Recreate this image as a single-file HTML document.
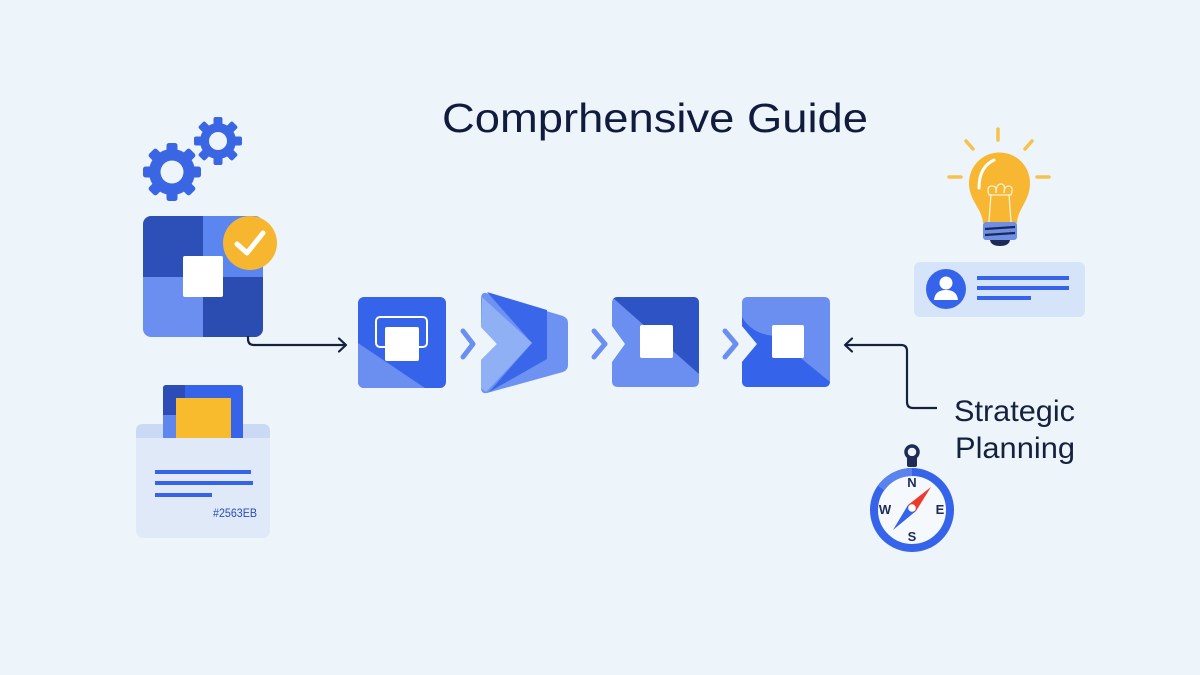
<!DOCTYPE html>
<html><head><meta charset="utf-8"><style>
html,body{margin:0;padding:0;background:#eef5fa;}
svg{display:block;}
text{font-family:"Liberation Sans",sans-serif;}
</style></head><body>
<svg width="1200" height="675" viewBox="0 0 1200 675" xmlns="http://www.w3.org/2000/svg">
<defs>
<clipPath id="cBig"><rect x="143" y="216" width="120" height="121" rx="8"/></clipPath>
<clipPath id="cB1"><rect x="358" y="297" width="88" height="91" rx="6"/></clipPath>
<clipPath id="cB3"><path d="M618,297 H693 Q699,297 699,303 V381 Q699,387 693,387 H618 Q612,387 612,381 V362 L625,344 L612,326 V303 Q612,297 618,297Z"/></clipPath>
<clipPath id="cB4"><path d="M748,297 H824 Q830,297 830,303 V381 Q830,387 824,387 H748 Q742,387 742,381 V362 L757,344 L742,326 V303 Q742,297 748,297Z"/></clipPath>
<clipPath id="cBlue"><rect x="163" y="385" width="80" height="60" rx="3"/></clipPath>
</defs>
<rect width="1200" height="675" fill="#eef5fa"/>

<!-- Title -->
<text x="442" y="132" font-size="41" fill="#111b3d" textLength="426" lengthAdjust="spacingAndGlyphs">Comprhensive Guide</text>

<!-- Gears -->
<g fill="#3a66e3">
  <g transform="translate(172,172)">
    <circle r="23"/>
    <g>
      <rect x="-5.5" y="-29" width="11" height="12" rx="2.5"/>
      <rect x="-5.5" y="-29" width="11" height="12" rx="2.5" transform="rotate(45)"/>
      <rect x="-5.5" y="-29" width="11" height="12" rx="2.5" transform="rotate(90)"/>
      <rect x="-5.5" y="-29" width="11" height="12" rx="2.5" transform="rotate(135)"/>
      <rect x="-5.5" y="-29" width="11" height="12" rx="2.5" transform="rotate(180)"/>
      <rect x="-5.5" y="-29" width="11" height="12" rx="2.5" transform="rotate(225)"/>
      <rect x="-5.5" y="-29" width="11" height="12" rx="2.5" transform="rotate(270)"/>
      <rect x="-5.5" y="-29" width="11" height="12" rx="2.5" transform="rotate(315)"/>
    </g>
    <circle r="11.5" fill="#eef5fa"/>
  </g>
  <g transform="translate(218,141)">
    <circle r="18"/>
    <rect x="-4.5" y="-24" width="9" height="10" rx="2"/>
    <rect x="-4.5" y="-24" width="9" height="10" rx="2" transform="rotate(45)"/>
    <rect x="-4.5" y="-24" width="9" height="10" rx="2" transform="rotate(90)"/>
    <rect x="-4.5" y="-24" width="9" height="10" rx="2" transform="rotate(135)"/>
    <rect x="-4.5" y="-24" width="9" height="10" rx="2" transform="rotate(180)"/>
    <rect x="-4.5" y="-24" width="9" height="10" rx="2" transform="rotate(225)"/>
    <rect x="-4.5" y="-24" width="9" height="10" rx="2" transform="rotate(270)"/>
    <rect x="-4.5" y="-24" width="9" height="10" rx="2" transform="rotate(315)"/>
    <circle r="9" fill="#eef5fa"/>
  </g>
</g>

<!-- Big quadrant square -->
<g clip-path="url(#cBig)">
  <rect x="143" y="216" width="60" height="61" fill="#2c4fb8"/>
  <rect x="203" y="216" width="60" height="61" fill="#5b85ef"/>
  <rect x="143" y="277" width="60" height="60" fill="#6b8ff0"/>
  <rect x="203" y="277" width="60" height="60" fill="#2b4cb0"/>
</g>
<rect x="183" y="256" width="40" height="41" rx="2" fill="#ffffff"/>
<circle cx="250" cy="243" r="27" fill="#f6b62f"/>
<polyline points="237,244 247,253 263,233" fill="none" stroke="#fff" stroke-width="5" stroke-linecap="round" stroke-linejoin="round"/>

<!-- Left connector -->
<path d="M248,336 V339 Q248,345 254,345 H345" fill="none" stroke="#16203f" stroke-width="2.2"/>
<polyline points="339,338.5 346,345 339,351.5" fill="none" stroke="#16203f" stroke-width="2.2" stroke-linejoin="round" stroke-linecap="round"/>

<!-- Box 1 -->
<g clip-path="url(#cB1)">
  <rect x="358" y="297" width="88" height="91" fill="#3563e9"/>
  <polygon points="358,343 425,388 358,388" fill="#6b8ff0"/>
</g>
<rect x="376" y="317" width="51" height="30" rx="4" fill="none" stroke="#fff" stroke-width="2"/>
<rect x="385" y="327" width="34" height="34" rx="2" fill="#fff"/>

<!-- chevrons -->
<g fill="none" stroke="#6b8ff0" stroke-width="5" stroke-linecap="round" stroke-linejoin="round">
  <polyline points="463,331 473,344 463,357"/>
  <polyline points="594,331 605,344 594,357"/>
  <polyline points="725,331 736,344 725,357"/>
</g>

<!-- Box 2 (arrow shape) -->
<path d="M486,293 L563,316 Q568,318 568,323 V365 Q568,370 563,372 L487,393 Q481,394 481,388 V360 L497,344 L481,327 V299 Q481,292 486,293Z" fill="#6d92f1"/>
<polygon points="487,292 547,310 547,359 489,392 532,343" fill="#3a67ea"/>
<polygon points="482,297 532,343 486,392 481,388 481,360 497,344 481,327" fill="#90b0f6"/>

<!-- Box 3 -->
<g clip-path="url(#cB3)">
  <rect x="612" y="297" width="87" height="90" fill="#6b8ff0"/>
  <polygon points="612,297 699,297 699,374" fill="#2d53c4"/>
</g>
<rect x="640" y="325" width="33" height="33" rx="2" fill="#fff"/>

<!-- Box 4 -->
<g clip-path="url(#cB4)">
  <rect x="742" y="297" width="88" height="90" fill="#6b8ff0"/>
  <path d="M742,317 Q752,334 774,336 L830,382 V387 H742Z" fill="#3563e9"/>
</g>
<rect x="772" y="325" width="32" height="33" rx="2" fill="#fff"/>

<!-- Right connector -->
<path d="M937,408 H913 Q907,408 907,402 V351 Q907,345 901,345 H846" fill="none" stroke="#16203f" stroke-width="2.2"/>
<polyline points="852,338.5 845,345 852,351.5" fill="none" stroke="#16203f" stroke-width="2.2" stroke-linejoin="round" stroke-linecap="round"/>

<text x="954" y="421" font-size="30" fill="#16203f" textLength="121" lengthAdjust="spacingAndGlyphs">Strategic</text>
<text x="955" y="458" font-size="30" fill="#16203f" textLength="120" lengthAdjust="spacingAndGlyphs">Planning</text>

<!-- Compass -->
<rect x="907" y="456" width="10" height="11" rx="2" fill="#1e2b58"/>
<circle cx="912" cy="452" r="6" fill="none" stroke="#1e2b58" stroke-width="3.5"/>
<circle cx="912" cy="510" r="38" fill="#f5f8fd" stroke="#3563e9" stroke-width="8"/>
<path d="M881,488 A38,38 0 0 1 912,472" fill="none" stroke="#5b83ee" stroke-width="8"/>
<g font-weight="bold" font-size="13" fill="#1e2b58" text-anchor="middle">
  <text x="912" y="487">N</text>
  <text x="912" y="541">S</text>
  <text x="885" y="514">W</text>
  <text x="940" y="514">E</text>
</g>
<polygon points="931,487 916,511 908,505" fill="#ee3a2c"/>
<polygon points="893,530 908,505 916,511" fill="#3563e9"/>
<circle cx="912" cy="508" r="3.8" fill="#fff"/>

<!-- Light bulb -->
<g stroke="#f5c24c" stroke-width="3.5" stroke-linecap="round">
  <line x1="998" y1="129" x2="998" y2="140"/>
  <line x1="966" y1="141" x2="973" y2="149"/>
  <line x1="1032" y1="141" x2="1025" y2="149"/>
  <line x1="949" y1="177" x2="961" y2="177"/>
  <line x1="1037" y1="177" x2="1049" y2="177"/>
</g>
<path d="M969,183 A30,30 0 1 1 1030,183 C1030,201 1018,208 1017,223 H983 C982,208 969,201 969,183Z" fill="#f7b733"/>
<path d="M979,188 Q979,167 994,160" fill="none" stroke="#fff" stroke-width="3" stroke-linecap="round"/>
<g fill="none" stroke="#fff2cf" stroke-width="1.3">
  <path d="M989,222 L991,194 M1011,222 L1009,194"/>
  <path d="M989,195 Q986,186 992,186 Q997,186 996,193 Q996,184 1001,184 Q1006,184 1004,193 Q1004,186 1009,186 Q1014,187 1011,195Z"/>
</g>
<rect x="983" y="222" width="34" height="18" rx="3" fill="#6f8fe6"/>
<line x1="985" y1="229" x2="1015" y2="227" stroke="#1c2a55" stroke-width="2.2"/>
<line x1="985" y1="235" x2="1015" y2="233" stroke="#1c2a55" stroke-width="2.2"/>
<path d="M990,240 H1010 Q1009,246 1000,246 Q991,246 990,240Z" fill="#1c2a55"/>

<!-- Right card -->
<rect x="914" y="262" width="171" height="55" rx="6" fill="#d6e4fa"/>
<circle cx="946" cy="289" r="20" fill="#3563e9"/>
<circle cx="946" cy="283" r="6.5" fill="#fff"/>
<path d="M934,300 Q935,290 946,290 Q957,290 958,300Z" fill="#fff"/>
<rect x="977" y="276" width="92" height="4" fill="#3563e9"/>
<rect x="977" y="286" width="92" height="4" fill="#3563e9"/>
<rect x="977" y="296" width="54" height="4" fill="#3563e9"/>

<!-- Left bottom card -->
<rect x="136" y="424" width="134" height="114" rx="7" fill="#dfe9f8"/>
<path d="M143,424 H263 Q270,424 270,431 V438 H136 V431 Q136,424 143,424Z" fill="#cbdaf4"/>
<g clip-path="url(#cBlue)">
  <rect x="163" y="385" width="80" height="53" fill="#3563e9"/>
  <rect x="163" y="385" width="22" height="30" fill="#2b4db5"/>
  <rect x="163" y="415" width="13" height="23" fill="#5f86ee"/>
</g>
<rect x="176" y="398" width="55" height="40" fill="#f8bb2e"/>
<rect x="155" y="470" width="96" height="4" fill="#3563e9"/>
<rect x="155" y="481" width="98" height="4" fill="#3563e9"/>
<rect x="155" y="493" width="57" height="4" fill="#3563e9"/>
<text x="213" y="517" font-size="11.5" fill="#2b4db5" textLength="44" lengthAdjust="spacingAndGlyphs">#2563EB</text>
</svg>
</body></html>
